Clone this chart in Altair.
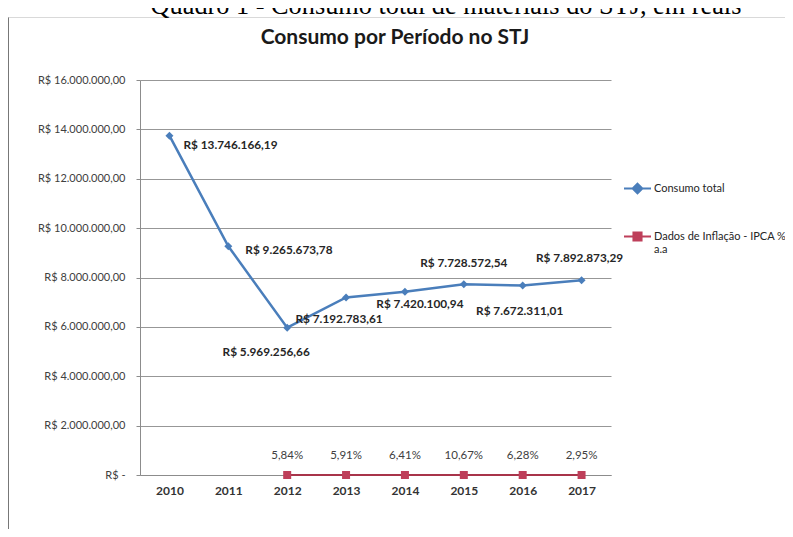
import altair as alt
import pandas as pd

# ---------------- data ----------------
years = ["2010", "2011", "2012", "2013", "2014", "2015", "2016", "2017"]
consumo_total = [13746166.19, 9265673.78, 5969256.66, 7192783.61,
                 7420100.94, 7728572.54, 7672311.01, 7892873.29]
ipca_years = ["2012", "2013", "2014", "2015", "2016", "2017"]
ipca_pct = [5.84, 5.91, 6.41, 10.67, 6.28, 2.95]
series_names = ["Consumo total", "Dados de Inflação - IPCA % a.a"]
y_ticks = [0, 2000000, 4000000, 6000000, 8000000, 10000000, 12000000, 14000000, 16000000]
chart_title = "Consumo por Período no STJ"
caption = "Quadro 1 - Consumo total de materiais  do STJ, em reais"


def brl(v):
    s = f"{v:,.2f}"
    return "R$ " + s.replace(",", "#").replace(".", ",").replace("#", ".")


def pct(v):
    return f"{v:.2f}".replace(".", ",") + "%"


rows = []
for y, v in zip(years, consumo_total):
    rows.append({"year": y, "series": series_names[0], "value": v, "label": brl(v)})
for y, p in zip(ipca_years, ipca_pct):
    rows.append({"year": y, "series": series_names[1], "value": p / 100.0, "label": pct(p)})
df = pd.DataFrame(rows)

# ---------------- style ----------------
BLUE = "#4A7EBB"
RED = "#BE3F5A"
GRID = "#8c8c8c"
FONT = "Lato"

# label offsets for the "Consumo total" data labels (style, per year)
label_place = {
    "2010": ("left", 14, 9),
    "2011": ("left", 17, 4),
    "2012": ("center", -21, 24),
    "2013": ("center", -7, 22),
    "2014": ("center", 15, 12),
    "2015": ("center", 0, -21),
    "2016": ("center", -3, 25),
    "2017": ("center", -2, -22),
}

y_label_expr = (
    "datum.value == 0 ? 'R$ -' : 'R$ ' + "
    "replace(replace(replace(format(datum.value, ',.2f'), regexp(',', 'g'), '#'), "
    "regexp('[.]', 'g'), ','), regexp('#', 'g'), '.')"
)

legend = alt.Legend(
    orient="none",
    legendX=483,
    legendY=94,
    title=None,
    direction="vertical",
    symbolSize=729,
    symbolStrokeWidth=2,
    symbolOpacity=1,
    labelFont=FONT,
    labelFontSize=11,
    labelColor="#262626",
    labelOffset=2,
    labelLimit=250,
    rowPadding=24,
    labelExpr="datum.label == 'Dados de Inflação - IPCA % a.a' ? ['Dados de Inflação - IPCA %', ' ', 'a.a'] : datum.label",
)

x_enc = alt.X(
    "year:O",
    scale=alt.Scale(domain=years),
    axis=alt.Axis(
        title=None, labelAngle=0, ticks=False, grid=False,
        domainColor=GRID, labelFont=FONT, labelFontSize=12,
        labelFontWeight="bold", labelColor="#333333", labelPadding=10,
    ),
)
y_enc = alt.Y(
    "value:Q",
    scale=alt.Scale(domain=[0, 16000000], nice=False, zero=True),
    axis=alt.Axis(
        title=None, values=y_ticks, labelExpr=y_label_expr, grid=True,
        gridColor=GRID, gridOpacity=0.9, domainColor=GRID, tickColor=GRID,
        tickSize=4, labelPadding=11, labelFont=FONT, labelFontSize=11,
        labelColor="#404040",
    ),
)

base = alt.Chart(df).encode(x=x_enc, y=y_enc)

line_blue = base.transform_filter(alt.datum.series == series_names[0]).mark_line(
    strokeWidth=2.5, color=BLUE
)
line_red = base.transform_filter(alt.datum.series == series_names[1]).mark_line(
    strokeWidth=1.8, color="#A8344A"
)
pts_blue = base.transform_filter(alt.datum.series == series_names[0]).mark_point(
    filled=True, opacity=1, size=64, shape="diamond", color=BLUE
)
pts_red = base.transform_filter(alt.datum.series == series_names[1]).mark_point(
    filled=True, opacity=1, size=64, shape="square", color=RED
)

# legend-only layer (invisible marks; the legend symbols are drawn opaque)
legend_paths = [
    "M-1,0H1M0,-0.36L0.36,0L0,0.36L-0.36,0Z",
    "M-1,0H1M-0.3,-0.3H0.3V0.3H-0.3Z",
]
legend_layer = base.mark_point(filled=True, opacity=0, strokeWidth=2).encode(
    fill=alt.Fill("series:N", scale=alt.Scale(domain=series_names, range=[BLUE, RED]), legend=legend),
    stroke=alt.Stroke("series:N", scale=alt.Scale(domain=series_names, range=[BLUE, RED]), legend=legend),
    shape=alt.Shape("series:N", scale=alt.Scale(domain=series_names, range=legend_paths), legend=legend),
)

text_layers = []
for yr, (al, dx, dy) in label_place.items():
    text_layers.append(
        base.transform_filter(
            (alt.datum.series == series_names[0]) & (alt.datum.year == yr)
        ).mark_text(
            align=al, baseline="middle", dx=dx, dy=dy, font=FONT,
            fontSize=11.8, fontWeight="bold", color="#262626",
        ).encode(text="label:N")
    )

pct_labels = base.transform_filter(alt.datum.series == series_names[1]).mark_text(
    align="center", baseline="middle", dy=-19, font=FONT, fontSize=11.5, color="#404040"
).encode(text="label:N")

one = pd.DataFrame({"t": [chart_title], "c": [caption]})
title_mark = alt.Chart(one).mark_text(
    font=FONT, fontSize=21, fontWeight="bold", color="#1a1a1a", align="center", baseline="middle"
).encode(text="t:N", x=alt.value(255), y=alt.value(-42))
caption_mark = alt.Chart(one).mark_text(
    font="Liberation Serif", fontSize=26.3, color="#000000", align="center", baseline="alphabetic"
).encode(text="c:N", x=alt.value(306), y=alt.value(-66))
left_border = alt.Chart(one).mark_rule(color="#777777", strokeWidth=1).encode(
    x=alt.value(-131.5), y=alt.value(-63), y2=alt.value(470)
)
top_border = alt.Chart(one).mark_rule(color="#d9d9d9", strokeWidth=1).encode(
    x=alt.value(-131.5), x2=alt.value(650), y=alt.value(-62.5)
)

chart = alt.layer(
    left_border, top_border, caption_mark, title_mark,
    line_blue, line_red, pts_blue, pts_red, legend_layer, *text_layers, pct_labels,
).properties(
    width=471,
    height=395,
    padding={"left": 132, "top": 72, "right": 174, "bottom": 54},
    autosize=alt.AutoSizeParams(type="none"),
    background="white",
).configure_view(stroke=None)

chart.save("out.html", embed_options={"renderer": "svg", "actions": False})
